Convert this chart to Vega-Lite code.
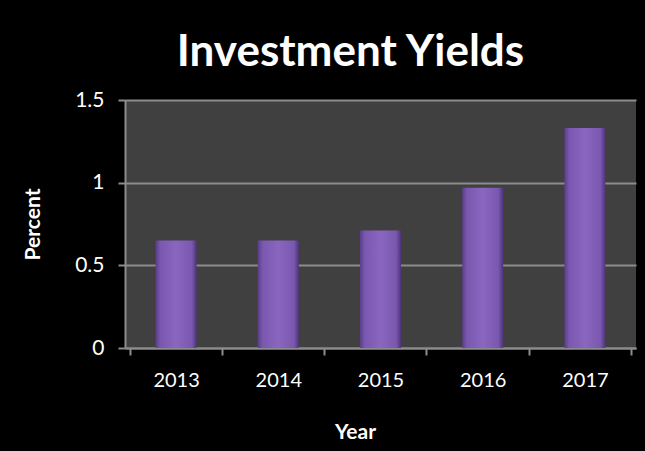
{
  "$schema": "https://vega.github.io/schema/vega-lite/v6.json",
  "width": 511,
  "height": 248,
  "autosize": {"type": "none"},
  "padding": {"left": 125, "top": 100, "right": 9, "bottom": 103},
  "background": "black",
  "title": {
    "text": "Investment Yields",
    "font": "Lato",
    "fontSize": 44,
    "fontWeight": "bold",
    "color": "white",
    "anchor": "middle",
    "dx": -30,
    "offset": 14
  },
  "config": {"view": {"fill": "#404040", "stroke": null}},
  "data": {
    "values": [
      {"Year": "2013", "Percent": 0.65},
      {"Year": "2014", "Percent": 0.65},
      {"Year": "2015", "Percent": 0.71},
      {"Year": "2016", "Percent": 0.97},
      {"Year": "2017", "Percent": 1.33}
    ]
  },
  "mark": {
    "type": "bar",
    "width": 41,
    "color": {
      "gradient": "linear",
      "x1": 0, "y1": 0, "x2": 1, "y2": 0,
      "stops": [
        {"offset": 0, "color": "#5a3e88"},
        {"offset": 0.12, "color": "#7a58b0"},
        {"offset": 0.5, "color": "#8a66bf"},
        {"offset": 0.88, "color": "#7a58b0"},
        {"offset": 1, "color": "#4e3478"}
      ]
    }
  },
  "encoding": {
    "x": {
      "field": "Year",
      "type": "nominal",
      "axis": {
        "title": "Year",
        "titleFont": "Lato",
        "titleFontSize": 21,
        "titleFontWeight": "bold",
        "titleColor": "white",
        "titleX": 230,
        "titleY": 84,
        "titleBaseline": "middle",
        "labelFont": "Lato",
        "labelFontSize": 20,
        "labelColor": "white",
        "labelAngle": 0,
        "labelPadding": 15,
        "tickBand": "extent",
        "tickColor": "#8c8c8c",
        "tickWidth": 2,
        "tickSize": 7,
        "domainColor": "#8c8c8c",
        "domainWidth": 2
      }
    },
    "y": {
      "field": "Percent",
      "type": "quantitative",
      "scale": {"domain": [0, 1.5]},
      "axis": {
        "values": [0, 0.5, 1, 1.5],
        "format": "~g",
        "title": "Percent",
        "titleFont": "Lato",
        "titleFontSize": 21,
        "titleFontWeight": "bold",
        "titleColor": "white",
        "titleX": -92,
        "titleY": 124,
        "titleAngle": -90,
        "titleAlign": "center",
        "titleBaseline": "middle",
        "labelFont": "Lato",
        "labelFontSize": 21,
        "labelColor": "white",
        "labelPadding": 14,
        "tickColor": "#8c8c8c",
        "tickWidth": 2,
        "tickSize": 7,
        "domainColor": "#8c8c8c",
        "domainWidth": 2,
        "gridColor": "#8c8c8c",
        "gridWidth": 2
      }
    }
  }
}
